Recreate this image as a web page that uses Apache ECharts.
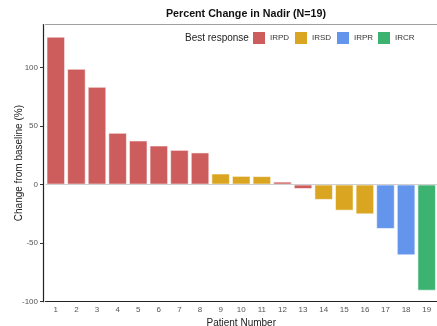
<!DOCTYPE html>
<html>
<head>
<meta charset="utf-8">
<script src="https://cdn.jsdelivr.net/npm/echarts@6/dist/echarts.min.js"></script>
<style>
  html, body { margin: 0; padding: 0; background: #fff; }
  #chart { width: 437px; height: 326px; }
</style>
</head>
<body>
<div id="chart"></div>
<script>
// Waterfall of best percent change from baseline per patient
const patients = ['1','2','3','4','5','6','7','8','9','10','11','12','13','14','15','16','17','18','19'];
const change = [126.2, 98.8, 83.4, 44.1, 37.6, 33.3, 29.6, 27.4, 9.4, 7.4, 7.2, 2.5, -3.8, -13.1, -22.3, -25.4, -37.9, -60.4, -90.6];
const response = ['IRPD','IRPD','IRPD','IRPD','IRPD','IRPD','IRPD','IRPD','IRSD','IRSD','IRSD','IRPD','IRPD','IRSD','IRSD','IRSD','IRPR','IRPR','IRCR'];
const responseTypes = ['IRPD', 'IRSD', 'IRPR', 'IRCR'];
const responseColors = ['#CD5C5C', '#DAA520', '#6495ED', '#3CB371'];
const yTicks = [-100, -50, 0, 50, 100];

const FONT = '"Liberation Sans", Arial, sans-serif';

const series = responseTypes.map((type, k) => ({
  name: type,
  type: 'bar',
  stack: 'all',
  barCategoryGap: '10%',
  itemStyle: { color: responseColors[k], borderColor: 'rgba(255,255,255,0.55)', borderWidth: 1 },
  data: change.map((v, i) => (response[i] === type ? v : null)),
  z: 3
}));

// reference line at zero
series.push({
  type: 'line',
  data: [],
  silent: true,
  markLine: {
    symbol: 'none',
    silent: true,
    label: { show: false },
    lineStyle: { color: '#cfcfcf', width: 1, type: 'solid' },
    data: [{ yAxis: 0 }]
  },
  z: 2
});

const legendLefts = [253, 295, 337, 378];
const legends = responseTypes.map((type, k) => ({
  data: [type],
  left: legendLefts[k],
  top: 32,
  itemWidth: 12,
  itemHeight: 12,
  itemGap: 0,
  icon: 'rect',
  selectedMode: false,
  textStyle: { fontFamily: FONT, fontSize: 8, color: '#333', padding: [0, 0, 0, 0] },
  padding: 0,
  itemStyle: { borderWidth: 0 }
}));

const option = {
  animation: false,
  backgroundColor: '#fff',
  title: [
    {
      text: 'Percent Change in Nadir (N=19)',
      left: 241, textAlign: 'center', top: 4,
      textStyle: { fontFamily: FONT, fontSize: 10.7, fontWeight: 'bold', color: '#111' }
    },
    {
      text: 'Best response',
      left: 185, top: 33,
      padding: 0,
      textStyle: { fontFamily: FONT, fontSize: 10, fontWeight: 'normal', color: '#222' }
    }
  ],
  legend: legends,
  grid: { left: 45.5, right: 0, top: 24.5, bottom: 24.3, containLabel: false, outerBoundsMode: 'none' },
  xAxis: [
    {
      type: 'category',
      data: patients,
      name: 'Patient Number',
      nameLocation: 'middle',
      nameGap: 14,
      nameTextStyle: { fontFamily: FONT, fontSize: 10, color: '#222' },
      axisLine: { onZero: false, lineStyle: { color: '#222', width: 1.2 } },
      axisTick: { alignWithLabel: true, length: 3, lineStyle: { color: '#333' } },
      axisLabel: { fontFamily: FONT, fontSize: 8, color: '#555', margin: 4 }
    },
    {
      type: 'category',
      data: patients,
      position: 'top',
      axisLine: { show: true, onZero: false, lineStyle: { color: '#a0a0a0', width: 1 } },
      axisTick: { show: false },
      axisLabel: { show: false }
    }
  ],
  yAxis: {
    type: 'value',
    min: -100,
    max: 136.6,
    offset: 2.5,
    name: 'Change from baseline (%)',
    nameLocation: 'middle',
    nameGap: 19,
    nameMoveOverlap: false,
    nameTextStyle: { fontFamily: FONT, fontSize: 10, color: '#222' },
    axisLine: { show: true, lineStyle: { color: '#222', width: 1.2 } },
    axisTick: { show: true, length: 3, lineStyle: { color: '#333' }, customValues: yTicks },
    axisLabel: { fontFamily: FONT, fontSize: 8, color: '#555', margin: 5, customValues: yTicks },
    splitLine: { show: false }
  },
  series: series
};

const chart = echarts.init(document.getElementById('chart'), null, { renderer: 'canvas' });
chart.setOption(option);
</script>
</body>
</html>
